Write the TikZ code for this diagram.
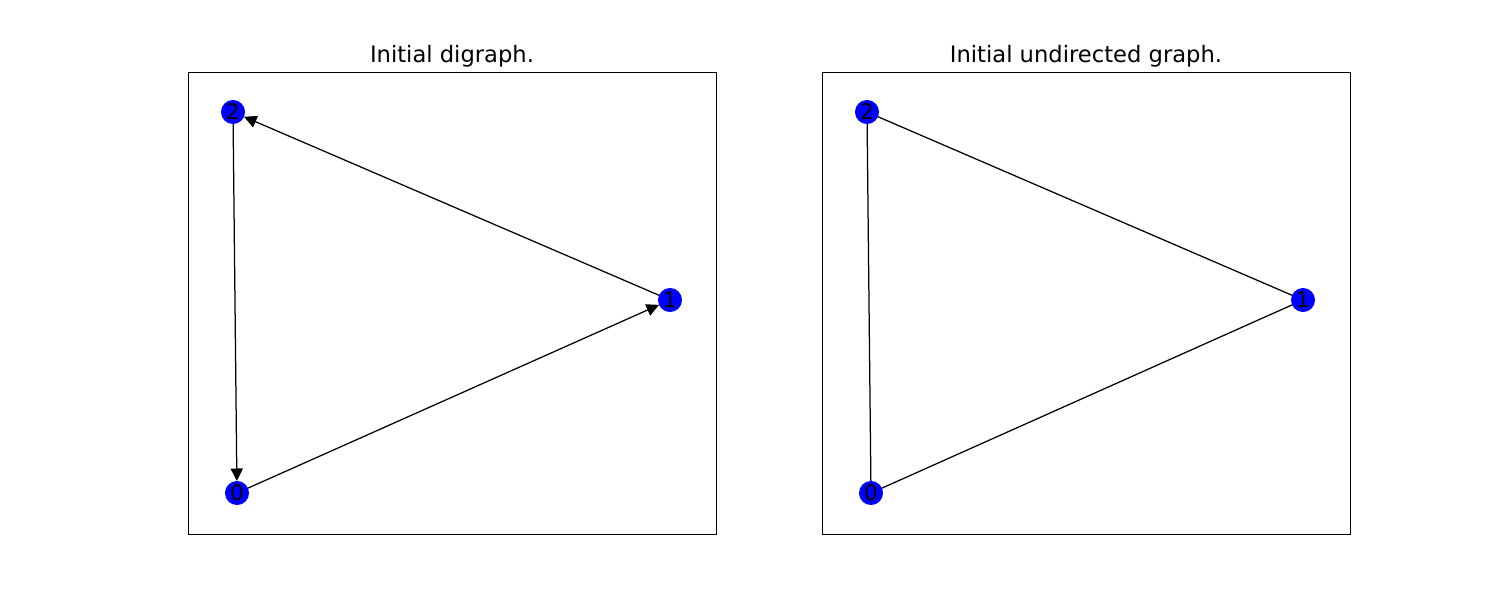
\documentclass[tikz,border=0pt]{standalone}
\usepackage{fontspec}
\setmainfont{DejaVu Sans}
\usetikzlibrary{arrows.meta, positioning}
\tikzset{frame/.style={draw,line width=0.72pt}}
\tikzset{vertex/.style={circle,fill=blue,inner sep=0pt,outer sep=0pt,minimum size=17.3pt,font=\fontsize{15.5}{18}\selectfont}}
\tikzset{edge/.style={line width=0.9pt}}
\tikzset{arc/.style={edge,-{Triangle[length=9pt,width=8.8pt]}}}
\tikzset{heading/.style={anchor=base,font=\fontsize{16.3}{19}\selectfont}}

\begin{document}
\begin{tikzpicture}[x=0.72pt,y=-0.72pt]
\useasboundingbox (0,0) rectangle (1500,600);

% Define frames and titles
\draw[frame] (188,72) rectangle (716,534);
\draw[frame] (822,72) rectangle (1350,534);
\node[heading] (titleD) at (452,62) {Initial digraph.};
\node[heading] (titleU) at (1086,62) {Initial undirected graph.};

% Digraph nodes
\node[vertex] (d0) at (237,493) {0};
\node[vertex] (d1) at (670,300) {1};
\node[vertex] (d2) at (233,112) {2};

% Draw arcs of digraph
\path[draw,arc] (d0) -- (d1);
\path[draw,arc] (d1) -- (d2);
\path[draw,arc] (d2) -- (d0);

% Undirected graph nodes
\node[vertex] (u0) at (871,493) {0};
\node[vertex] (u1) at (1303,300) {1};
\node[vertex] (u2) at (867,112) {2};

% Draw edges of undirected graph
\path[draw,edge] (u0) -- (u1);
\path[draw,edge] (u1) -- (u2);
\path[draw,edge] (u2) -- (u0);

\end{tikzpicture}
\end{document}
